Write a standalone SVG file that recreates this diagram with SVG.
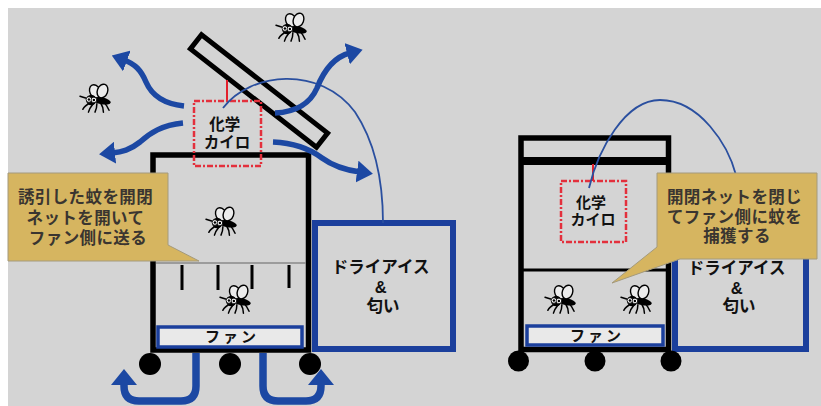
<svg xmlns="http://www.w3.org/2000/svg" xmlns:xlink="http://www.w3.org/1999/xlink" width="821" height="406" viewBox="0 0 821 406">
  <style>
    .frame { fill: none; stroke: #000; stroke-width: 5.5; }
    .blue-box { fill: none; stroke: #1b3f9c; stroke-width: 6; }
    .fan { fill: #e9e9e9; stroke: #1b3f9c; stroke-width: 3.5; }
    .kairo { fill: none; stroke: #e3303c; stroke-width: 2.5; stroke-dasharray: 6 2 2 2; }
    .wheel { fill: #000; }
    .flow { fill: none; stroke: #1c48a3; stroke-width: 5.5; marker-end: url(#head); }
    .flow-big { fill: none; stroke: #1c48a3; stroke-width: 7.5; marker-end: url(#headBig); }
    .scent { fill: none; stroke: #2a4f9f; stroke-width: 1.8; }
    .callout { fill: #d6b560; stroke: #a49a7c; stroke-width: 1; }
    .label { font-family: "Liberation Sans", "Noto Sans CJK JP", sans-serif; font-weight: 700; fill: #111; text-anchor: middle; }
    .note { font-family: "Liberation Sans", "Noto Sans CJK JP", sans-serif; font-weight: 700; fill: #3a3530; text-anchor: middle; font-size: 16.5px; letter-spacing: 0.4px; }
  </style>
  <defs>
    <marker id="head" viewBox="0 0 16 22" markerWidth="16" markerHeight="22" markerUnits="userSpaceOnUse" refX="3" refY="11" orient="auto">
      <path d="M0,0 L16,11 L0,22 Z" fill="#1c48a3"/>
    </marker>
    <marker id="headBig" viewBox="0 0 16 26" markerWidth="16" markerHeight="26" markerUnits="userSpaceOnUse" refX="3" refY="13" orient="auto">
      <path d="M0,0 L16,13 L0,26 Z" fill="#1c48a3"/>
    </marker>
    <!-- cartoon mosquito icon, centred on the origin -->
    <symbol id="mosquito" viewBox="-18 -16 36 32" overflow="visible">
      <g fill="none" stroke="#000" stroke-width="1.6" stroke-linecap="round">
        <path d="M-5,4 Q-11,7 -13,11"/>
        <path d="M-2,5 Q-6,10 -7,14"/>
        <path d="M2,5 Q2,10 0,14"/>
        <path d="M6,4 Q9,9 9,14"/>
        <path d="M9,3 Q13,7 15,12"/>
        <path d="M-10,-1 L-16,-3"/>
      </g>
      <ellipse cx="0" cy="-8" rx="5.5" ry="7.5" transform="rotate(-25 0 -8)" fill="#ececec" stroke="#000" stroke-width="1.5"/>
      <ellipse cx="8" cy="-8.5" rx="5.5" ry="7.5" transform="rotate(20 8 -8.5)" fill="#ececec" stroke="#000" stroke-width="1.5"/>
      <ellipse cx="7" cy="2" rx="10" ry="3.6" transform="rotate(10 7 2)" fill="#000"/>
      <circle cx="-4" cy="1" r="5.6" fill="#000"/>
      <circle cx="-6.5" cy="0.5" r="3" fill="#fff" stroke="#000" stroke-width="0.9"/>
      <circle cx="-1.2" cy="1" r="3" fill="#fff" stroke="#000" stroke-width="0.9"/>
      <circle cx="-6.5" cy="0.5" r="1.3" fill="#000"/>
      <circle cx="-1.2" cy="1" r="1.3" fill="#000"/>
    </symbol>
  </defs>

  <!-- page -->
  <rect x="0" y="0" width="821" height="406" fill="#fff"/>
  <rect x="8" y="8" width="813" height="398" fill="#d4d4d4"/>

  <!-- ===== left unit: open net ===== -->
  <g id="left-dry-ice">
    <rect class="blue-box" x="315" y="223" width="138" height="126"/>
    <text class="label" font-size="16.5">
      <tspan x="383" y="273">ドライアイス</tspan>
      <tspan x="383" y="293">&amp;</tspan>
      <tspan x="383" y="312">匂い</tspan>
    </text>
  </g>

  <g id="left-trap">
    <rect class="frame" x="153" y="155" width="155.5" height="195"/>
    <line x1="156" y1="263" x2="306" y2="263" stroke="#8a8a8a" stroke-width="1.5"/>
    <g stroke="#000" stroke-width="3">
      <line x1="182" y1="265" x2="182" y2="290"/>
      <line x1="218" y1="265" x2="218" y2="290"/>
      <line x1="252" y1="265" x2="252" y2="289"/>
      <line x1="289" y1="265" x2="289" y2="288"/>
    </g>
    <circle class="wheel" cx="150" cy="364" r="11"/>
    <circle class="wheel" cx="230" cy="364" r="11"/>
    <circle class="wheel" cx="310" cy="364" r="11"/>
  </g>

  <g id="left-fan">
    <rect class="fan" x="158" y="327" width="144" height="20"/>
    <text class="label" font-size="15" letter-spacing="3" x="232" y="342">ファン</text>
  </g>

  <g id="left-lid">
    <rect x="-80" y="-9" width="160" height="18" fill="none" stroke="#000" stroke-width="5" transform="translate(259 91) rotate(38)"/>
    <line x1="227" y1="80" x2="227" y2="101" stroke="#e3202c" stroke-width="2"/>
  </g>

  <g id="left-kairo">
    <rect class="kairo" x="194" y="101" width="67" height="65"/>
    <text class="label" font-size="15.5">
      <tspan x="227" y="130">化学</tspan>
      <tspan x="227" y="148">カイロ</tspan>
    </text>
  </g>

  <g id="mosquitoes-left">
    <use href="#mosquito" x="274" y="13" width="34" height="30"/>
    <use href="#mosquito" x="78" y="84" width="34" height="30"/>
    <use href="#mosquito" x="204" y="207" width="34" height="30"/>
    <use href="#mosquito" x="218" y="285" width="34" height="30"/>
  </g>

  <g id="left-callout">
    <path class="callout" d="M8,173 H168 V245 L199,261 H8 Z"/>
    <text class="note">
      <tspan x="88" y="203">誘引した蚊を開閉</tspan>
      <tspan x="88" y="224">ネットを開いて</tspan>
      <tspan x="88" y="244">ファン側に送る</tspan>
    </text>
  </g>

  <!-- ===== right unit: closed net ===== -->
  <g id="right-dry-ice">
    <rect class="blue-box" x="675" y="222" width="131" height="127"/>
    <text class="label" font-size="16.5">
      <tspan x="739" y="274">ドライアイス</tspan>
      <tspan x="739" y="294">&amp;</tspan>
      <tspan x="739" y="312">匂い</tspan>
    </text>
  </g>

  <g id="right-trap">
    <rect class="frame" x="521" y="138" width="147.5" height="211.5" stroke-width="6"/>
    <rect x="521" y="157" width="147.5" height="8" fill="#000"/>
    <line x1="521" y1="270" x2="668" y2="270" stroke="#000" stroke-width="3"/>
    <circle class="wheel" cx="518.5" cy="361" r="10.5"/>
    <circle class="wheel" cx="595" cy="361" r="10.5"/>
    <circle class="wheel" cx="671" cy="361" r="10.5"/>
  </g>

  <g id="right-fan">
    <rect class="fan" x="527" y="326" width="136" height="19"/>
    <text class="label" font-size="15" letter-spacing="3" x="597" y="341">ファン</text>
  </g>

  <g id="right-kairo">
    <line x1="593" y1="164" x2="593" y2="181" stroke="#e3202c" stroke-width="2"/>
    <rect class="kairo" x="561" y="181" width="65" height="61"/>
    <text class="label" font-size="15">
      <tspan x="593" y="208">化学</tspan>
      <tspan x="593" y="225">カイロ</tspan>
    </text>
  </g>

  <g id="mosquitoes-right">
    <use href="#mosquito" x="543" y="285" width="34" height="30"/>
    <use href="#mosquito" x="619" y="285" width="34" height="30"/>
  </g>

  <!-- connectors: scent lines and air flow -->
  <g id="connectors">
    <path class="scent" d="M223,108 C250,72 320,65 355,112 C375,142 383,180 383,223"/>
    <path class="scent" d="M589,188 C598,150 625,100 660,100 C700,100 728,145 736,175 C740,190 742,205 742,222"/>
    <path class="flow" d="M184,106 C165,104 152,96 146,82 C141,70 135,64 124,60"/>
    <path class="flow" d="M183,123 C162,125 150,133 140,142 C130,150 122,152 112,153"/>
    <path class="flow" d="M275,113 C296,112 310,104 317,88 C324,70 334,57 350,53"/>
    <path class="flow" d="M273,142 C296,143 310,149 322,158 C333,166 345,170 360,172"/>
    <path class="flow-big" d="M196,353 L196,386 Q196,401 181,401 L139,401 Q124,401 124,386 L124,382"/>
    <path class="flow-big" d="M263,353 L263,386 Q263,401 278,401 L306,401 Q321,401 321,386 L321,382"/>
  </g>

  <g id="right-callout">
    <path class="callout" d="M657,173 H817 V259 H680 L612,283 L657,247 Z"/>
    <text class="note">
      <tspan x="737" y="203">開閉ネットを閉じ</tspan>
      <tspan x="737" y="223">てファン側に蚊を</tspan>
      <tspan x="737" y="242">捕獲する</tspan>
    </text>
  </g>
</svg>
